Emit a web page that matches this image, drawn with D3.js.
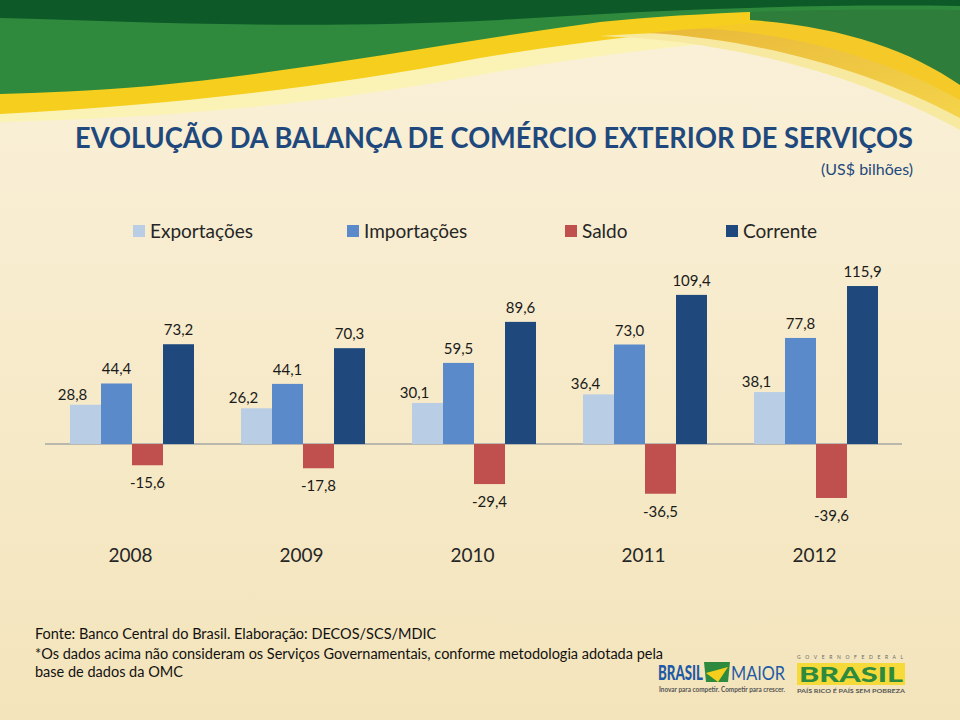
<!DOCTYPE html>
<html><head><meta charset="utf-8">
<script src="https://cdn.jsdelivr.net/npm/d3@7"></script>
<style>html,body{margin:0;padding:0;background:#F7EDD2;}svg{display:block;}</style>
</head><body>
<script>
const years = ["2008","2009","2010","2011","2012"];
const seriesNames = ["Exportações","Importações","Saldo","Corrente"];
const exportacoes = [28.8, 26.2, 30.1, 36.4, 38.1];
const importacoes = [44.4, 44.1, 59.5, 73.0, 77.8];
const saldo = [-15.6, -17.8, -29.4, -36.5, -39.6];
const corrente = [73.2, 70.3, 89.6, 109.4, 115.9];
const seriesColors = ["#B9CDE5","#5B8ACB","#C0504D","#1F497D"];

const W = 960, H = 720;
const svg = d3.select("body").append("svg").attr("width", W).attr("height", H);
const font = "Lato, 'Open Sans', sans-serif";

// background
const defs = svg.append("defs");
const bg = defs.append("linearGradient").attr("id","bg").attr("x1",0).attr("y1",0).attr("x2",0).attr("y2",1);
bg.append("stop").attr("offset","0%").attr("stop-color","#FAF1DA");
bg.append("stop").attr("offset","100%").attr("stop-color","#F3E4BB");
svg.append("rect").attr("width",W).attr("height",H).attr("fill","url(#bg)");

// top swoosh decoration
const gold = defs.append("linearGradient").attr("id","gold").attr("x1",0).attr("y1",0).attr("x2",1).attr("y2",1);
gold.append("stop").attr("offset","0%").attr("stop-color","#E9B93A");
gold.append("stop").attr("offset","100%").attr("stop-color","#F4D34A");
const deco = svg.append("g");
deco.append("path").attr("fill","#FBF3B5")
  .attr("d","M0,0 H960 V40 C800,30 650,45 480,75 C300,108 150,118 0,122 Z");
deco.append("path").attr("fill","#F6CE1E")
  .attr("d","M0,0 H960 V22 C800,18 650,30 480,58 C300,92 150,106 0,114 Z");
deco.append("path").attr("fill","#F8E9A0")
  .attr("d","M600,36 C720,40 850,70 960,130 V60 C860,30 720,28 600,36 Z");
deco.append("path").attr("fill","url(#gold)")
  .attr("d","M650,33 C760,40 870,70 960,118 V55 C860,25 740,22 650,33 Z");
deco.append("path").attr("fill","#F5C928")
  .attr("d","M700,28 C800,34 890,60 960,100 V40 C880,20 780,18 700,28 Z");
deco.append("path").attr("fill","#2E7D3A")
  .attr("d","M750,20 C840,26 910,50 960,85 V0 H750 Z");
deco.append("path").attr("fill","#2F8A3E")
  .attr("d","M0,0 H960 V10 C820,8 700,12 600,22 C450,42 300,72 150,86 C90,91 40,93 0,94 Z");
deco.append("path").attr("fill","#0D5A28")
  .attr("d","M0,0 H960 V6 C800,4 650,10 500,20 C300,30 150,22 0,18 Z");

// title
svg.append("text").attr("x",75).attr("y",148)
  .attr("font-family",font).attr("font-weight","bold").attr("font-size",28)
  .attr("fill","#1F497D").attr("textLength",838).attr("lengthAdjust","spacingAndGlyphs")
  .text("EVOLUÇÃO DA BALANÇA DE COMÉRCIO EXTERIOR DE SERVIÇOS");
svg.append("text").attr("x",913).attr("y",175).attr("text-anchor","end")
  .attr("font-family",font).attr("font-size",16).attr("fill","#1F497D")
  .text("(US$ bilhões)");

// legend
const legendX = [133, 347, 565, 726];
const lg = svg.append("g");
seriesNames.forEach((n,i)=>{
  lg.append("rect").attr("x",legendX[i]).attr("y",225).attr("width",12).attr("height",12).attr("fill",seriesColors[i]);
  lg.append("text").attr("x",legendX[i]+17).attr("y",238).attr("font-family",font).attr("font-size",19)
    .attr("fill","#262626").text(n);
});

// scales
const x0 = d3.scaleBand().domain(years).range([45, 900]).padding(0);
const x1 = d3.scaleBand().domain(seriesNames).range([25, 149]).padding(0);
const ppu = 1.363, zeroY = 444;
const y = d3.scaleLinear().domain([-50, 125]).range([zeroY + 50*ppu, zeroY - 125*ppu]);

const seriesData = [exportacoes, importacoes, saldo, corrente];
const fmt = v => d3.format(".1f")(v).replace("\u2212", "-").replace(".", ",");

const chart = svg.append("g");
chart.append("line").attr("x1",45).attr("x2",902).attr("y1",y(0)).attr("y2",y(0))
  .attr("stroke","#A6A6A6").attr("stroke-width",1.5);

years.forEach((yr, gi)=>{
  const g = chart.append("g").attr("transform",`translate(${x0(yr)},0)`);
  seriesNames.forEach((s, si)=>{
    const v = seriesData[si][gi];
    g.append("rect").attr("x",x1(s)).attr("width",x1.bandwidth())
      .attr("y", y(Math.max(0,v))).attr("height", Math.abs(y(v)-y(0)))
      .attr("fill", seriesColors[si]);
    const cx = x1(s) + x1.bandwidth()/2 + (si===0 ? -13 : 0);
    const ty = v >= 0 ? y(v) - 9 + (si===0 ? 4 : 0) : y(v) + 23;
    g.append("text").attr("x",cx).attr("y",ty).attr("text-anchor","middle")
      .attr("font-family",font).attr("font-size",15).attr("fill","#1a1a1a").text(fmt(v));
  });
});

// year axis labels
const xAxis = d3.axisBottom(x0).tickSize(0).tickPadding(0);
const ax = chart.append("g").attr("transform","translate(0,552)").call(xAxis);
ax.select(".domain").remove();
ax.selectAll("text").attr("font-family",font).attr("font-size",19).attr("fill","#262626").attr("dy","0.5em");

// footnotes
const notes = ["Fonte: Banco Central do Brasil. Elaboração: DECOS/SCS/MDIC",
  "*Os dados acima não consideram os Serviços Governamentais, conforme metodologia adotada pela",
  "base de dados da OMC"];
const noteY = [639, 659, 677];
notes.forEach((t,i)=>{
  svg.append("text").attr("x",35).attr("y",noteY[i]).attr("font-family",font).attr("font-size",14.5)
    .attr("fill","#111").text(t);
});

// logos (approximation)
const logo = svg.append("g");
logo.append("text").attr("x",658).attr("y",680).attr("font-family",font).attr("font-weight","900")
  .attr("font-size",20).attr("fill","#1F5AA6").attr("textLength",45).attr("lengthAdjust","spacingAndGlyphs").text("BRASIL");
logo.append("path").attr("d","M704,662 L730,662 L728,682 L706,682 Z").attr("fill","#2E8B3E");
logo.append("path").attr("d","M706,673 L728,667 L718,682 Z").attr("fill","#F6CE1E");
logo.append("text").attr("x",731).attr("y",680).attr("font-family",font)
  .attr("font-size",20).attr("fill","#1F5AA6").attr("textLength",54).attr("lengthAdjust","spacingAndGlyphs").text("MAIOR");
logo.append("text").attr("x",659).attr("y",692).attr("font-family",font).attr("font-weight","bold")
  .attr("font-size",6.5).attr("fill","#555").attr("textLength",126).attr("lengthAdjust","spacingAndGlyphs")
  .text("Inovar para competir. Competir para crescer.");
logo.append("text").attr("x",797).attr("y",659).attr("font-family",font).attr("font-size",5)
  .attr("fill","#666").attr("textLength",106).attr("lengthAdjust","spacing").text("G O V E R N O   F E D E R A L");
logo.append("rect").attr("x",797).attr("y",663).attr("width",108).attr("height",22).attr("fill","#F6DA3A");
logo.append("text").attr("x",799).attr("y",682).attr("font-family",font).attr("font-weight","900")
  .attr("font-size",20).attr("fill","#2E8B3E").attr("textLength",104).attr("lengthAdjust","spacingAndGlyphs").text("BRASIL");
logo.append("text").attr("x",797).attr("y",693).attr("font-family",font).attr("font-weight","bold")
  .attr("font-size",6).attr("fill","#555").attr("textLength",108).attr("lengthAdjust","spacingAndGlyphs")
  .text("PAÍS RICO É PAÍS SEM POBREZA");
</script>
</body></html>
